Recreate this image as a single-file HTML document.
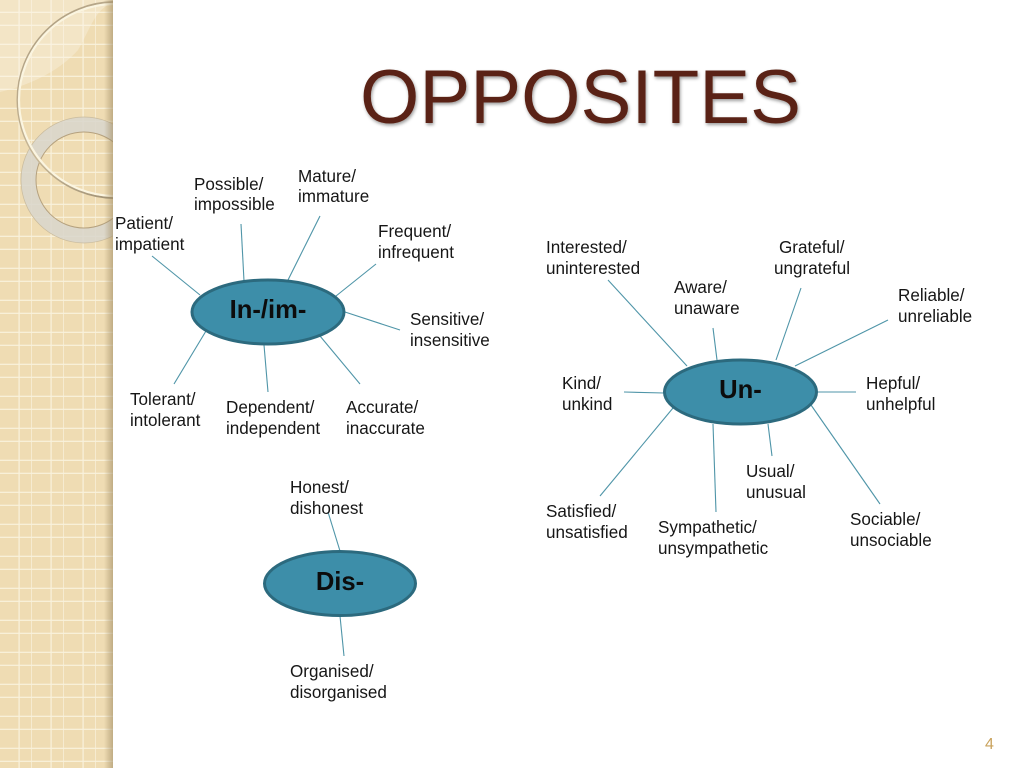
<!DOCTYPE html>
<html>
<head>
<meta charset="utf-8">
<style>
html,body{margin:0;padding:0;background:#fff;width:1024px;height:768px;overflow:hidden}
svg{display:block;position:absolute;left:0;top:0}
text{font-family:"Liberation Sans",Arial,sans-serif}
.t{font-size:17.1px;fill:#161616}
.b{font-size:25.6px;font-weight:bold;fill:#0c0c0c;text-anchor:middle}
.l{stroke:#4f95a8;stroke-width:1.1;fill:none}
.e{fill:#3d8ea9;stroke:#2c6a7e;stroke-width:3}
</style>
</head>
<body>
<svg width="1024" height="768" viewBox="0 0 1024 768" xmlns="http://www.w3.org/2000/svg">
<defs>
<pattern id="grid" width="32" height="32" patternUnits="userSpaceOnUse">
<rect x="0" y="0" width="32" height="32" fill="#efdcb3"/>
<rect x="18.5" y="0" width="1.2" height="32" fill="#f9f2dc"/>
<rect x="0" y="11.7" width="32" height="1.2" fill="#f9f2dc"/>
<rect x="0" y="24.7" width="32" height="1.2" fill="#f9f2dc"/>
<rect x="31.3" y="0" width="1.2" height="32" fill="#f9f2dc"/>
</pattern>
<linearGradient id="sh" x1="0" x2="1" y1="0" y2="0">
<stop offset="0" stop-color="#a08c64" stop-opacity="0"/>
<stop offset="1" stop-color="#a08c64" stop-opacity=".6"/>
</linearGradient>
<linearGradient id="ring" x1="0" x2="1" y1="0" y2="1">
<stop offset="0" stop-color="#a8987c"/>
<stop offset=".45" stop-color="#c8b898"/>
<stop offset="1" stop-color="#7d6f55"/>
</linearGradient>
<clipPath id="side"><rect x="0" y="0" width="113" height="768"/></clipPath>
<filter id="ts" x="-5%" y="-10%" width="110%" height="125%">
<feDropShadow dx="1" dy="2" stdDeviation="1.6" flood-color="#000" flood-opacity=".38"/>
</filter>
</defs>

<rect x="0" y="0" width="113" height="768" fill="url(#grid)"/>
<g clip-path="url(#side)">
<path d="M0 0H113V3C95 8 90 30 78 50C62 68 35 84 0 92Z" fill="#fbf6ea" opacity=".35"/>
<circle cx="84" cy="180" r="55.5" fill="none" stroke="#d9d6cc" stroke-opacity=".88" stroke-width="15"/>
<circle cx="84" cy="180" r="63" fill="none" stroke="#c9bb9d" stroke-width=".7"/>
<circle cx="84" cy="180" r="48" fill="none" stroke="#b5a17e" stroke-width="1"/>
<circle cx="115.5" cy="100" r="98" fill="none" stroke="url(#ring)" stroke-width="2"/>
<circle cx="115" cy="100" r="96" fill="none" stroke="#fbf5e0" stroke-width="2.2"/>
</g>
<rect x="104" y="0" width="9" height="768" fill="url(#sh)"/>

<text x="360" y="123" font-size="76.5" fill="#5a2213" filter="url(#ts)" textLength="441" lengthAdjust="spacingAndGlyphs">OPPOSITES</text>

<g class="l">
<line x1="152" y1="256" x2="200" y2="295"/>
<line x1="241" y1="224" x2="244" y2="281"/>
<line x1="320" y1="216" x2="288" y2="280"/>
<line x1="376" y1="264" x2="336" y2="296"/>
<line x1="400" y1="330" x2="345" y2="312"/>
<line x1="360" y1="384" x2="320" y2="336"/>
<line x1="268" y1="392" x2="264" y2="345"/>
<line x1="174" y1="384" x2="206" y2="331"/>
<line x1="608" y1="280" x2="687" y2="366"/>
<line x1="713" y1="328" x2="717" y2="360"/>
<line x1="801" y1="288" x2="776" y2="360"/>
<line x1="888" y1="320" x2="795" y2="366"/>
<line x1="856" y1="392" x2="817" y2="392"/>
<line x1="880" y1="504" x2="811" y2="405"/>
<line x1="772" y1="456" x2="768" y2="424"/>
<line x1="716" y1="512" x2="713" y2="424"/>
<line x1="600" y1="496" x2="673" y2="408"/>
<line x1="624" y1="392" x2="664" y2="393"/>
<line x1="328" y1="512" x2="340" y2="551"/>
<line x1="344" y1="656" x2="340" y2="616"/>
</g>

<ellipse class="e" cx="268" cy="312" rx="76" ry="32"/>
<ellipse class="e" cx="740.5" cy="392" rx="76" ry="32"/>
<ellipse class="e" cx="340" cy="583.5" rx="75.5" ry="32"/>
<text class="b" x="268" y="318">In-/im-</text>
<text class="b" x="740.5" y="398">Un-</text>
<text class="b" x="340" y="590">Dis-</text>

<g class="t">
<text x="298" y="182">Mature/</text><text x="298" y="202">immature</text>
<text x="194" y="190">Possible/</text><text x="194" y="210">impossible</text>
<text x="115" y="229">Patient/</text><text x="115" y="250">impatient</text>
<text x="378" y="237">Frequent/</text><text x="378" y="258">infrequent</text>
<text x="410" y="325">Sensitive/</text><text x="410" y="346">insensitive</text>
<text x="130" y="405">Tolerant/</text><text x="130" y="426">intolerant</text>
<text x="226" y="413">Dependent/</text><text x="226" y="434">independent</text>
<text x="346" y="413">Accurate/</text><text x="346" y="434">inaccurate</text>
<text x="546" y="253">Interested/</text><text x="546" y="274">uninterested</text>
<text x="674" y="293">Aware/</text><text x="674" y="314">unaware</text>
<text x="779" y="253">Grateful/</text><text x="774" y="274">ungrateful</text>
<text x="898" y="301">Reliable/</text><text x="898" y="322">unreliable</text>
<text x="562" y="389">Kind/</text><text x="562" y="410">unkind</text>
<text x="866" y="389">Hepful/</text><text x="866" y="410">unhelpful</text>
<text x="746" y="477">Usual/</text><text x="746" y="498">unusual</text>
<text x="546" y="517">Satisfied/</text><text x="546" y="538">unsatisfied</text>
<text x="658" y="533">Sympathetic/</text><text x="658" y="554">unsympathetic</text>
<text x="850" y="525">Sociable/</text><text x="850" y="546">unsociable</text>
<text x="290" y="493">Honest/</text><text x="290" y="514">dishonest</text>
<text x="290" y="677">Organised/</text><text x="290" y="698">disorganised</text>
</g>

<text x="985" y="749" font-size="16" fill="#c9a25c">4</text>
</svg>
</body>
</html>
